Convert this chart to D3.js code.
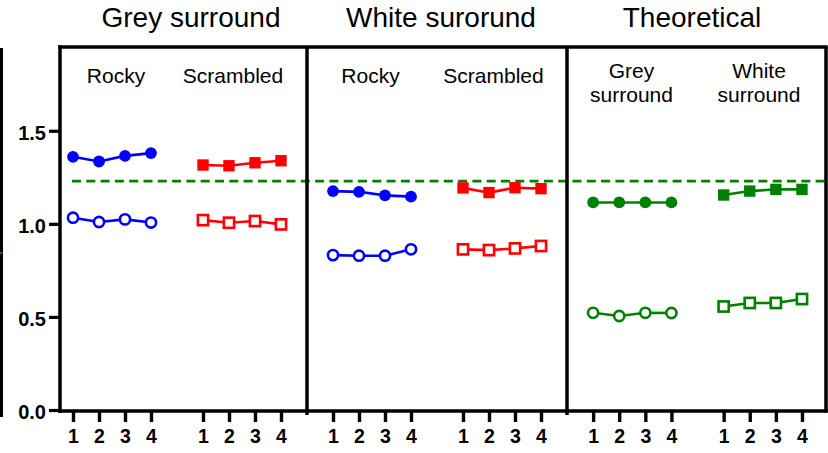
<!DOCTYPE html>
<html>
<head>
<meta charset="utf-8">
<script src="https://cdn.jsdelivr.net/npm/d3@7"></script>
<style>
  html, body { margin: 0; padding: 0; background: #fff; }
  svg { display: block; }
  text { font-family: "Liberation Sans", Arial, sans-serif; fill: #000; }
</style>
</head>
<body>
<svg id="chart" width="828" height="453"></svg>
<script>
// ---- data ----
const timepoints = ["1", "2", "3", "4"];
const panelTitles = ["Grey surround", "White surorund", "Theoretical"];
const groupLabels = [
  [["Rocky"], ["Scrambled"]],
  [["Rocky"], ["Scrambled"]],
  [["Grey", "surround"], ["White", "surround"]]
];
const yTickValues = [0, 0.5, 1.0, 1.5];
const referenceLevel = 1.23;

// Grey surround
const greyRockyHigh = [1.360, 1.335, 1.365, 1.380];
const greyRockyLow = [1.033, 1.010, 1.024, 1.007];
const greyScrambledHigh = [1.316, 1.312, 1.328, 1.339];
const greyScrambledLow = [1.020, 1.006, 1.015, 0.997];
// White surround
const whiteRockyHigh = [1.176, 1.172, 1.153, 1.146];
const whiteRockyLow = [0.832, 0.829, 0.829, 0.863];
const whiteScrambledHigh = [1.193, 1.168, 1.194, 1.189];
const whiteScrambledLow = [0.863, 0.859, 0.868, 0.881];
// Theoretical
const theoryGreyHigh = [1.115, 1.115, 1.115, 1.115];
const theoryGreyLow = [0.522, 0.505, 0.522, 0.521];
const theoryWhiteHigh = [1.155, 1.176, 1.185, 1.185];
const theoryWhiteLow = [0.556, 0.575, 0.575, 0.596];

// ---- layout ----
const svg = d3.select("#chart");
const yTop = 47, yBottom = 410;
const y = d3.scaleLinear().domain([0, 1.95]).range([yBottom, yTop]);

const BLUE = "#0000ff", RED = "#ff0000", GREEN = "#008000";
const FRAME_W = 3.5;

const panels = [
  { left: 60, right: 307, domain: [-0.5, 9], titleX: 131, subX: [56, 173], subY: 83,
    series: [
      { values: greyRockyHigh, group: 0, shape: "circle", filled: true, color: BLUE },
      { values: greyRockyLow, group: 0, shape: "circle", filled: false, color: BLUE },
      { values: greyScrambledHigh, group: 1, shape: "square", filled: true, color: RED },
      { values: greyScrambledLow, group: 1, shape: "square", filled: false, color: RED }
    ] },
  { left: 307, right: 567, domain: [-1, 9], titleX: 134, subX: [63.5, 186.5], subY: 83,
    series: [
      { values: whiteRockyHigh, group: 0, shape: "circle", filled: true, color: BLUE },
      { values: whiteRockyLow, group: 0, shape: "circle", filled: false, color: BLUE },
      { values: whiteScrambledHigh, group: 1, shape: "square", filled: true, color: RED },
      { values: whiteScrambledLow, group: 1, shape: "square", filled: false, color: RED }
    ] },
  { left: 567, right: 826, domain: [-1, 8.92], titleX: 125, subX: [64.5, 192], subY: 77.5,
    series: [
      { values: theoryGreyHigh, group: 0, shape: "circle", filled: true, color: GREEN },
      { values: theoryGreyLow, group: 0, shape: "circle", filled: false, color: GREEN },
      { values: theoryWhiteHigh, group: 1, shape: "square", filled: true, color: GREEN },
      { values: theoryWhiteLow, group: 1, shape: "square", filled: false, color: GREEN }
    ] }
];

// positions along each panel: group 0 at 0..3, group 1 at 5..8
const pos = (group, i) => group * 5 + i;

// stray edge strokes at far left
svg.append("rect").attr("x", 0).attr("y", 48).attr("width", 3).attr("height", 369).attr("fill", "#000");
svg.append("rect").attr("x", 0).attr("y", 252).attr("width", 2).attr("height", 2).attr("fill", GREEN);

// y axis
const yAxis = d3.axisLeft(y).tickValues(yTickValues).tickFormat(d3.format(".1f")).tickSize(11).tickPadding(3);
const gy = svg.append("g").attr("transform", "translate(60,0)").call(yAxis);
gy.select(".domain").remove();
gy.selectAll(".tick line").attr("stroke", "#000").attr("stroke-width", 3.2);
gy.selectAll(".tick text")
  .attr("font-size", 20).attr("font-weight", "bold")
  .attr("font-family", "'Liberation Sans', Arial, sans-serif")
  .attr("dy", "0.42em");

panels.forEach((p, pi) => {
  const x = d3.scaleLinear().domain(p.domain).range([p.left, p.right]);
  p.x = x;
  const g = svg.append("g");

  // title
  svg.append("text")
    .attr("x", p.left + p.titleX).attr("y", 27)
    .attr("text-anchor", "middle").attr("font-size", 28)
    .text(panelTitles[pi]);

  // group labels
  groupLabels[pi].forEach((lines, gi) => {
    const t = g.append("text")
      .attr("x", p.left + p.subX[gi]).attr("y", p.subY)
      .attr("text-anchor", "middle").attr("font-size", 21);
    lines.forEach((ln, li) => {
      t.append("tspan").attr("x", p.left + p.subX[gi]).attr("dy", li === 0 ? 0 : 24).text(ln);
    });
  });

  // x axis
  const tickPos = [0, 1, 2, 3, 5, 6, 7, 8];
  const xAxis = d3.axisBottom(x).tickValues(tickPos)
    .tickFormat(d => timepoints[d % 5]).tickSize(12).tickPadding(7);
  const gx = svg.append("g").attr("transform", `translate(0,${yBottom})`).call(xAxis);
  gx.select(".domain").remove();
  gx.selectAll(".tick line").attr("stroke", "#000").attr("stroke-width", 3.4);
  gx.selectAll(".tick text")
    .attr("font-size", 19.5).attr("font-weight", "bold")
    .attr("font-family", "'Liberation Sans', Arial, sans-serif");
});

// reference level (dashed)
svg.append("line")
  .attr("x1", panels[0].x(0) - 1).attr("x2", 828)
  .attr("y1", y(referenceLevel)).attr("y2", y(referenceLevel))
  .attr("stroke", GREEN).attr("stroke-width", 2.8)
  .attr("stroke-dasharray", "9,5.3");

// series
panels.forEach(p => {
  const x = p.x;
  const g = svg.append("g");
  p.series.forEach(s => {
    const pts = s.values.map((v, i) => [x(pos(s.group, i)), y(v)]);
    g.append("path")
      .attr("d", d3.line()(pts))
      .attr("fill", "none").attr("stroke", s.color).attr("stroke-width", 2.6);
    if (s.shape === "circle") {
      g.selectAll(null).data(pts).enter().append("circle")
        .attr("cx", d => d[0]).attr("cy", d => d[1])
        .attr("r", s.filled ? 5.9 : 5.1)
        .attr("fill", s.filled ? s.color : "#fff")
        .attr("stroke", s.filled ? "none" : s.color)
        .attr("stroke-width", 2.6);
    } else {
      const side = s.filled ? 11.4 : 10.2;
      g.selectAll(null).data(pts).enter().append("rect")
        .attr("x", d => d[0] - side / 2).attr("y", d => d[1] - side / 2)
        .attr("width", side).attr("height", side)
        .attr("fill", s.filled ? s.color : "#fff")
        .attr("stroke", s.filled ? "none" : s.color)
        .attr("stroke-width", 2.6);
    }
  });
});

// frames
const frame = svg.append("g").attr("stroke", "#000").attr("stroke-width", FRAME_W).attr("fill", "none");
frame.append("line").attr("x1", 60).attr("x2", 60).attr("y1", yTop - FRAME_W / 2).attr("y2", yBottom + 3);
frame.append("line").attr("x1", 60 - FRAME_W / 2).attr("x2", 826 + FRAME_W / 2).attr("y1", yTop).attr("y2", yTop);
frame.append("line").attr("x1", 60 - FRAME_W / 2).attr("x2", 826 + FRAME_W / 2).attr("y1", yBottom + 1).attr("y2", yBottom + 1);
panels.forEach(p => {
  frame.append("line").attr("x1", p.right).attr("x2", p.right)
    .attr("y1", yTop).attr("y2", p.right > 820 ? yBottom + 2.6 : yBottom + 5);
});
</script>
</body>
</html>
